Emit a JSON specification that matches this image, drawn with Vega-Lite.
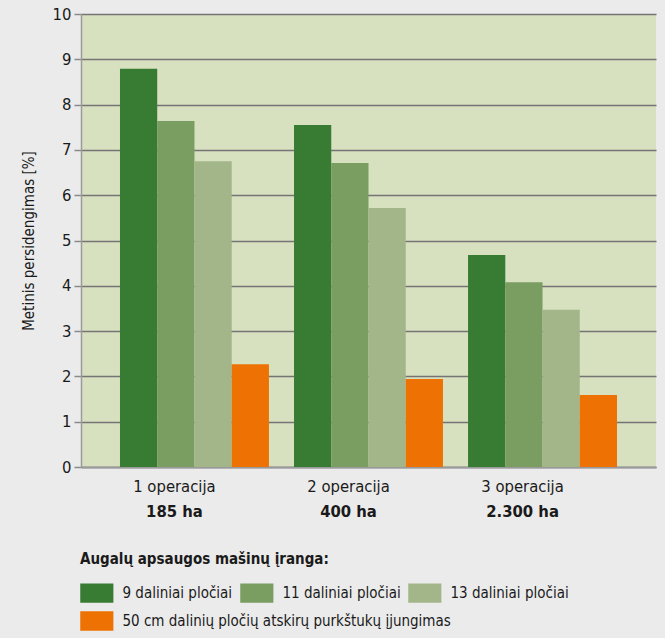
{
  "$schema": "https://vega.github.io/schema/vega-lite/v6.json",
  "width": 575,
  "height": 453,
  "autosize": {"type": "none"},
  "padding": {"left": 81, "top": 14, "right": 9, "bottom": 171},
  "background": "#ebebeb",
  "config": {
    "font": "DejaVu Sans Condensed, Roboto, sans-serif",
    "view": {"fill": "#d7e1bf", "stroke": null},
    "axis": {"labelColor": "#1a1a1a", "titleColor": "#1a1a1a"}
  },
  "data": {
    "values": [
      {"operacija": "1 operacija", "plotas": "185 ha", "iranga": "9 daliniai pločiai", "persidengimas": 8.79},
      {"operacija": "1 operacija", "plotas": "185 ha", "iranga": "11 daliniai pločiai", "persidengimas": 7.64},
      {"operacija": "1 operacija", "plotas": "185 ha", "iranga": "13 daliniai pločiai", "persidengimas": 6.75},
      {"operacija": "1 operacija", "plotas": "185 ha", "iranga": "50 cm dalinių pločių atskirų purkštukų įjungimas", "persidengimas": 2.27},
      {"operacija": "2 operacija", "plotas": "400 ha", "iranga": "9 daliniai pločiai", "persidengimas": 7.55},
      {"operacija": "2 operacija", "plotas": "400 ha", "iranga": "11 daliniai pločiai", "persidengimas": 6.71},
      {"operacija": "2 operacija", "plotas": "400 ha", "iranga": "13 daliniai pločiai", "persidengimas": 5.72},
      {"operacija": "2 operacija", "plotas": "400 ha", "iranga": "50 cm dalinių pločių atskirų purkštukų įjungimas", "persidengimas": 1.94},
      {"operacija": "3 operacija", "plotas": "2.300 ha", "iranga": "9 daliniai pločiai", "persidengimas": 4.68},
      {"operacija": "3 operacija", "plotas": "2.300 ha", "iranga": "11 daliniai pločiai", "persidengimas": 4.08},
      {"operacija": "3 operacija", "plotas": "2.300 ha", "iranga": "13 daliniai pločiai", "persidengimas": 3.47},
      {"operacija": "3 operacija", "plotas": "2.300 ha", "iranga": "50 cm dalinių pločių atskirų purkštukų įjungimas", "persidengimas": 1.59}
    ]
  },
  "layer": [
    {
      "transform": [{"filter": "datum.iranga != '50 cm dalinių pločių atskirų purkštukų įjungimas'"}],
      "mark": {"type": "bar"},
      "encoding": {
        "x": {
          "field": "operacija", "type": "nominal", "sort": null,
          "scale": {"domain": ["1 operacija", "2 operacija", "3 operacija"], "paddingInner": 0.144, "paddingOuter": 0.224},
          "axis": {
            "orient": "bottom", "title": null, "labelAngle": 0, "ticks": false,
            "domainColor": "#9a9a9a", "domainWidth": 2, "grid": false,
            "labelFontSize": 16.5, "labelPadding": 11, "labelOffset": -20
          }
        },
        "xOffset": {
          "field": "iranga", "type": "nominal",
          "scale": {"domain": ["9 daliniai pločiai", "11 daliniai pločiai", "13 daliniai pločiai", "50 cm dalinių pločių atskirų purkštukų įjungimas"], "paddingInner": 0, "paddingOuter": 0}
        },
        "y": {
          "field": "persidengimas", "type": "quantitative",
          "scale": {"domain": [0, 10]},
          "axis": {
            "values": [0, 1, 2, 3, 4, 5, 6, 7, 8, 9, 10],
            "title": "Metinis persidengimas [%]", "titleFontSize": 15, "titleFontWeight": "normal", "titlePadding": 16,
            "labelFontSize": 16.5, "labelPadding": 3, "tickSize": 7, "tickColor": "#8a8a8a", "tickWidth": 1.5,
            "domainColor": "#9a9a9a", "domainWidth": 1.5,
            "gridColor": "#747474", "gridWidth": 1.5
          }
        },
        "color": {
          "field": "iranga", "type": "nominal",
          "scale": {
            "domain": ["9 daliniai pločiai", "11 daliniai pločiai", "13 daliniai pločiai"],
            "range": ["#387b32", "#7a9d62", "#a3b68a"]
          },
          "legend": {
            "orient": "none", "legendX": -1, "legendY": 538,
            "title": "Augalų apsaugos mašinų įranga:", "titleFontWeight": "bold", "titleFontSize": 15, "titleColor": "#1a1a1a", "titlePadding": 16, "titleLimit": 600,
            "direction": "horizontal",
            "symbolType": "M-1,-1H2.4V1H-1Z", "symbolSize": 380, "symbolStrokeWidth": 0,
            "labelFontSize": 15, "labelColor": "#1a1a1a", "labelOffset": 22.5, "labelLimit": 600,
            "columnPadding": 7
          }
        }
      }
    },
    {
      "transform": [{"filter": "datum.iranga == '50 cm dalinių pločių atskirų purkštukų įjungimas'"}],
      "mark": {"type": "bar"},
      "encoding": {
        "x": {"field": "operacija", "type": "nominal", "sort": null, "axis": null},
        "xOffset": {"field": "iranga", "type": "nominal"},
        "y": {"field": "persidengimas", "type": "quantitative"},
        "color": {
          "field": "iranga", "type": "nominal",
          "scale": {"domain": ["50 cm dalinių pločių atskirų purkštukų įjungimas"], "range": ["#ee7203"]},
          "legend": {
            "orient": "none", "legendX": -1, "legendY": 597,
            "title": null,
            "symbolType": "M-1,-1H2.4V1H-1Z", "symbolSize": 380, "symbolStrokeWidth": 0,
            "labelFontSize": 15, "labelColor": "#1a1a1a", "labelOffset": 22.5, "labelLimit": 600
          }
        }
      }
    },
    {
      "mark": {"type": "bar", "opacity": 0},
      "encoding": {
        "x": {
          "field": "operacija", "type": "nominal", "sort": null,
          "axis": {
            "orient": "bottom", "title": null, "labelAngle": 0, "ticks": false, "domain": false, "grid": false,
            "labelExpr": "datum.value == '1 operacija' ? '185 ha' : datum.value == '2 operacija' ? '400 ha' : '2.300 ha'",
            "labelFontSize": 16.5, "labelFontWeight": "bold", "labelPadding": 36, "labelOffset": -20
          }
        },
        "xOffset": {"field": "iranga", "type": "nominal"},
        "y": {"field": "persidengimas", "type": "quantitative"}
      }
    }
  ],
  "resolve": {"axis": {"x": "independent"}, "scale": {"color": "independent"}}
}
